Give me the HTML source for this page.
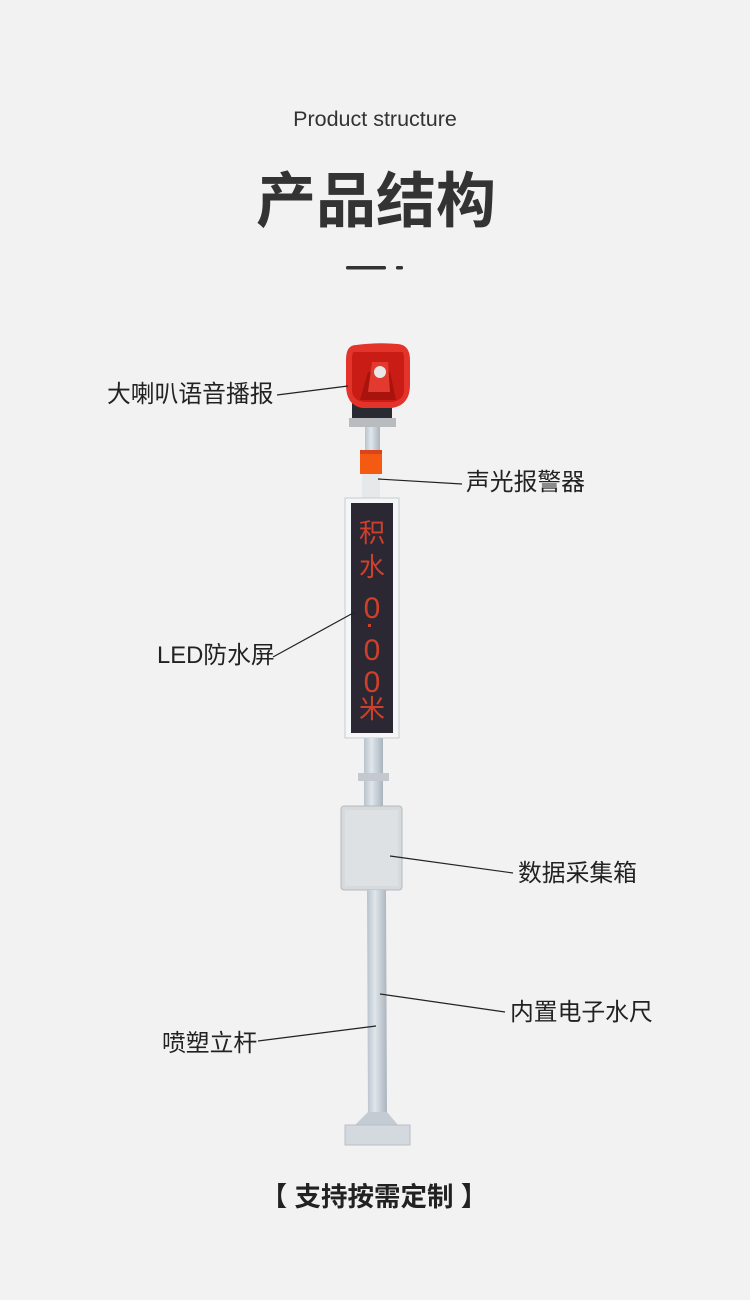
<!DOCTYPE html>
<html><head><meta charset="utf-8"><style>
html,body{margin:0;padding:0;background:#f2f2f2;}
svg{display:block;}
text{font-family:"Liberation Sans","Noto Sans CJK SC",sans-serif;}
</style></head><body>
<svg width="750" height="1300" viewBox="0 0 750 1300" xmlns="http://www.w3.org/2000/svg">
<defs>
<linearGradient id="pole" x1="0" x2="1"><stop offset="0" stop-color="#b9c3cc"/><stop offset="0.4" stop-color="#dfe6ec"/><stop offset="1" stop-color="#aab4bd"/></linearGradient>
</defs>
<rect width="750" height="1300" fill="#f2f2f2"/>
<text x="375" y="126" font-size="21.5" fill="#333" text-anchor="middle">Product structure</text>
<text x="376" y="222" font-size="60" font-weight="bold" fill="#333" text-anchor="middle" style="font-family:'Noto Sans CJK SC',sans-serif">产品结构</text>
<rect x="346" y="266" width="40" height="3.5" rx="1.5" fill="#333"/>
<rect x="396" y="266" width="7" height="3.5" rx="1.5" fill="#333"/>

<!-- speaker -->
<rect x="352" y="400" width="40" height="18" fill="#2a2a33"/>
<rect x="349" y="418" width="47" height="9" fill="#b8bcbf"/>
<path d="M356 345 Q346 345 346 360 L346 385 Q346 405 362 408 L392 408 Q410 405 410 385 L410 360 Q410 345 398 344 Q378 342 356 345Z" fill="#e3332b"/>
<path d="M354 352 L402 352 Q404 352 404 360 L404 390 Q404 400 392 402 L364 402 Q352 400 352 390 L352 360 Q352 352 354 352Z" fill="#c81c14"/>
<path d="M368 372 L390 372 L396 400 L360 400Z" fill="#a8130d"/>
<path d="M372 362 L388 362 L390 392 L368 392Z" fill="#e23a2e"/>
<circle cx="380" cy="372" r="6" fill="#e8e8e8"/>
<!-- upper pole -->
<rect x="365" y="427" width="15" height="24" fill="url(#pole)"/>
<rect x="360" y="450" width="22" height="24" fill="#f45a12"/>
<rect x="360" y="450" width="22" height="4" fill="#d9441a"/>
<rect x="362" y="474" width="18" height="24" fill="#e6e8ea"/>
<!-- LED panel -->
<rect x="345" y="498" width="54" height="240" fill="#f4f6f8" stroke="#c8ccd0"/>
<rect x="351" y="503" width="42" height="230" fill="#2b2733"/>
<g fill="#e0432a" font-size="26" text-anchor="middle" style="font-family:'Noto Sans CJK SC',monospace" opacity="0.9">
<text x="372" y="542">积</text>
<text x="372" y="576">水</text>
<text x="372" y="618" font-size="30">0</text>
<rect x="368" y="624" width="3" height="3"/>
<text x="372" y="660" font-size="30">0</text>
<text x="372" y="692" font-size="30">0</text>
<text x="372" y="718">米</text>
</g>
<!-- middle pole -->
<rect x="364" y="738" width="19" height="70" fill="url(#pole)"/>
<rect x="358" y="773" width="31" height="8" fill="#c3c9ce"/>
<!-- box -->
<rect x="341" y="806" width="61" height="84" rx="3" fill="#d6dadc" stroke="#b4b9bd"/>
<rect x="345" y="810" width="53" height="76" fill="#dde1e3"/>
<!-- lower pole -->
<path d="M367 890 L386 890 L387 1120 L368 1120Z" fill="url(#pole)"/>
<path d="M355 1125 L368 1112 L387 1112 L398 1125Z" fill="#c4ccd3"/>
<rect x="345" y="1125" width="65" height="20" fill="#d3d9de" stroke="#b8c0c7"/>

<!-- leader lines -->
<g stroke="#222" stroke-width="1.2">
<line x1="277" y1="395" x2="348" y2="386"/>
<line x1="378" y1="479" x2="462" y2="484"/>
<line x1="273" y1="657" x2="355" y2="612"/>
<line x1="390" y1="856" x2="513" y2="873"/>
<line x1="380" y1="994" x2="505" y2="1012"/>
<line x1="258" y1="1041" x2="376" y2="1026"/>
</g>
<g font-size="23.8" fill="#222">
<text x="107" y="402">大喇叭语音播报</text>
<text x="466" y="490">声光报警器</text>
<text x="157" y="663">LED防水屏</text>
<text x="518" y="881">数据采集箱</text>
<text x="510" y="1020">内置电子水尺</text>
<text x="162" y="1051">喷塑立杆</text>
</g>
<text x="374" y="1206" font-size="26.5" font-weight="bold" fill="#222" text-anchor="middle">【 支持按需定制 】</text>
</svg>
</body></html>
